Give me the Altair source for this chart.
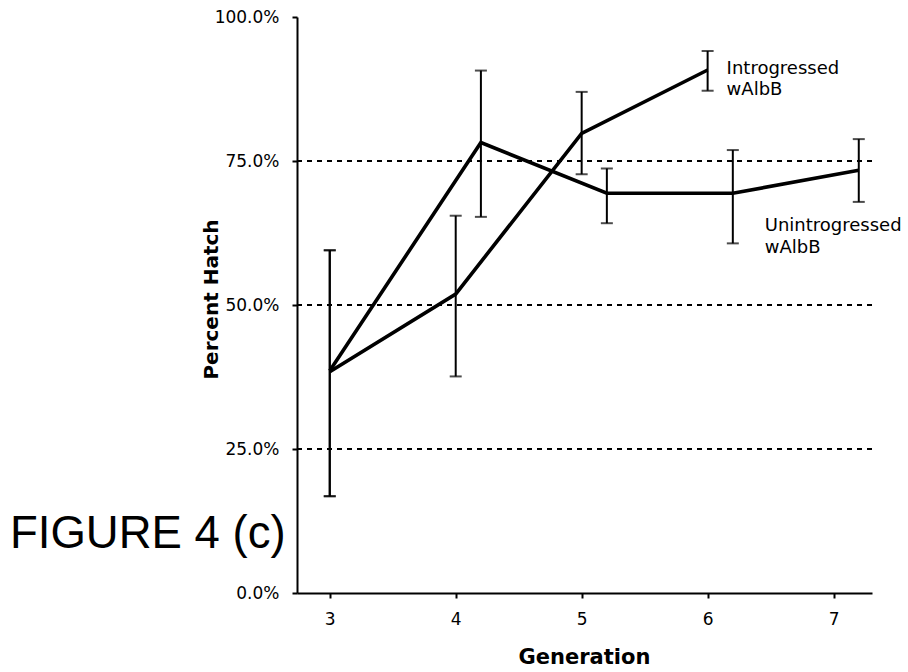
import altair as alt
import pandas as pd

# Generation positions (Unintrogressed series drawn slightly offset to the right)
gen_intro = [3, 4, 5, 6]
hatch_intro = [0.384, 0.519, 0.798, 0.908]
lo_intro = [0.168, 0.376, 0.727, 0.872]
hi_intro = [0.595, 0.655, 0.870, 0.941]

gen_unintro = [3, 4.2, 5.2, 6.2, 7.2]
hatch_unintro = [0.386, 0.782, 0.694, 0.694, 0.734]
lo_unintro = [0.168, 0.653, 0.642, 0.607, 0.679]
hi_unintro = [0.595, 0.907, 0.737, 0.769, 0.788]

series_names = ["Introgressed", "Unintrogressed"]
label_texts = ["Introgressed\nwAlbB", "Unintrogressed\nwAlbB"]
grid_values = [0.25, 0.5, 0.75]
x_ticks = [3, 4, 5, 6, 7]
y_ticks = [0.0, 0.25, 0.5, 0.75, 1.0]

rows = []
for g, h, lo, hi in zip(gen_intro, hatch_intro, lo_intro, hi_intro):
    rows.append({"series": series_names[0], "gen": g, "hatch": h, "lo": lo, "hi": hi})
for g, h, lo, hi in zip(gen_unintro, hatch_unintro, lo_unintro, hi_unintro):
    rows.append({"series": series_names[1], "gen": g, "hatch": h, "lo": lo, "hi": hi})
df = pd.DataFrame(rows)

grid_df = pd.DataFrame({"hatch": grid_values})
lab_intro = pd.DataFrame({"gen": [gen_intro[-1]], "hatch": [hatch_intro[-1]], "txt": [label_texts[0]]})
lab_unintro = pd.DataFrame({"gen": [gen_unintro[-1]], "hatch": [hatch_unintro[-1]], "txt": [label_texts[1]]})

xscale = alt.Scale(domain=[2.74, 7.305], nice=False, zero=False)
yscale = alt.Scale(domain=[0, 1], nice=False)

xaxis = alt.Axis(
    values=x_ticks, format="d", title="Generation", grid=False,
    labelFont="DejaVu Sans", labelFontSize=17, labelColor="black", labelPadding=13,
    titleFont="DejaVu Sans", titleFontSize=21, titleFontWeight="bold", titleColor="black",
    titleBaseline="alphabetic", titleX=287, titleY=70, titleAlign="center",
    domainColor="black", domainWidth=2, tickColor="black", tickWidth=2, tickSize=5,
)
yaxis = alt.Axis(
    values=y_ticks, format=".1%", title="Percent Hatch", grid=False,
    labelFont="DejaVu Sans", labelFontSize=17, labelColor="black", labelPadding=13,
    titleFont="DejaVu Sans", titleFontSize=20, titleFontWeight="bold", titleColor="black",
    titleBaseline="alphabetic", titleX=-80, titleY=282, titleAlign="center",
    domainColor="black", domainWidth=2, tickColor="black", tickWidth=2, tickSize=5,
)

X = lambda f: alt.X(f, type="quantitative", scale=xscale, axis=xaxis)
Y = lambda f: alt.Y(f, type="quantitative", scale=yscale, axis=yaxis)

grid = alt.Chart(grid_df).mark_rule(color="black", strokeWidth=2, strokeDash=[5, 5]).encode(
    y=Y("hatch")
)

base = alt.Chart(df)
lines = base.mark_line(color="black", strokeWidth=3.6).encode(
    x=X("gen"), y=Y("hatch"), detail="series:N", order="gen:Q"
)
bars = base.mark_rule(color="black", strokeWidth=2).encode(
    x=X("gen"), y=Y("lo"), y2="hi:Q"
)
cap_hi = base.mark_tick(color="black", thickness=2, size=12, orient="horizontal").encode(
    x=X("gen"), y=Y("hi")
)
cap_lo = base.mark_tick(color="black", thickness=2, size=12, orient="horizontal").encode(
    x=X("gen"), y=Y("lo")
)

t_intro = alt.Chart(lab_intro).mark_text(
    align="left", baseline="alphabetic", dx=19, dy=4, lineBreak="\n", lineHeight=21,
    font="DejaVu Sans", fontSize=18, color="black"
).encode(x=X("gen"), y=Y("hatch"), text="txt:N")

t_unintro = alt.Chart(lab_unintro).mark_text(
    align="left", baseline="alphabetic", dx=-94, dy=61, lineBreak="\n", lineHeight=22,
    font="DejaVu Sans", fontSize=18, color="black"
).encode(x=X("gen"), y=Y("hatch"), text="txt:N")

fig = alt.Chart(pd.DataFrame({"t": ["FIGURE 4 (c)"]})).mark_text(
    align="left", baseline="alphabetic", font="Liberation Sans", fontSize=45.5, color="black"
).encode(x=alt.value(-287), y=alt.value(531), text="t:N")

chart = alt.layer(grid, bars, cap_hi, cap_lo, lines, t_intro, t_unintro, fig).properties(
    width=575, height=576,
    autosize=alt.AutoSizeParams(type="none"),
    padding={"left": 297, "top": 17, "right": 36, "bottom": 79},
    background="white",
).configure_view(stroke=None)

chart.save("out.html", embed_options={"renderer": "svg", "actions": False})
